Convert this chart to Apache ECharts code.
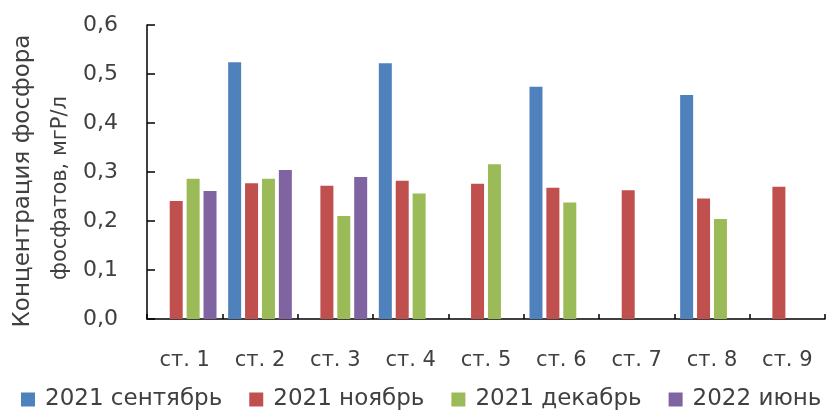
<!DOCTYPE html>
<html>
<head>
<meta charset="utf-8">
<script src="https://cdn.jsdelivr.net/npm/echarts@6/dist/echarts.min.js"></script>
<style>
  html, body { margin: 0; padding: 0; background: #fff; }
  #chart { width: 836px; height: 410px; }
</style>
</head>
<body>
<div id="chart"></div>
<script>
// Phosphate phosphorus concentration by station, mgP/l
const stations = ['ст. 1', 'ст. 2', 'ст. 3', 'ст. 4', 'ст. 5', 'ст. 6', 'ст. 7', 'ст. 8', 'ст. 9'];
const seriesNames = ['2021 сентябрь', '2021 ноябрь', '2021 декабрь', '2022 июнь'];
const sep2021 = [null, 0.524, null, 0.522, null, 0.474, null, 0.457, null];
const nov2021 = [0.241, 0.277, 0.272, 0.282, 0.276, 0.268, 0.263, 0.246, 0.270];
const dec2021 = [0.286, 0.286, 0.210, 0.256, 0.316, 0.238, null, 0.204, null];
const jun2022 = [0.261, 0.304, 0.290, null, null, null, null, null, null];
const yTicks = ['0,0', '0,1', '0,2', '0,3', '0,4', '0,5', '0,6'];
const yTitleLines = ['Концентрация фосфора', 'фосфатов, мгР/л'];

const palette = ['#4F81BD', '#C0504D', '#9BBB59', '#8064A2'];
const FONT = 'DejaVu Sans';
const TEXT = '#404040';

const chart = echarts.init(document.getElementById('chart'));
const values = [sep2021, nov2021, dec2021, jun2022];

chart.setOption({
  animation: false,
  color: palette,
  textStyle: { fontFamily: FONT, color: TEXT },
  grid: { left: 147, right: 11, top: 25, bottom: 91 },
  legend: {
    data: seriesNames,
    left: 21,
    top: 388,
    padding: 0,
    icon: 'rect',
    itemWidth: 14,
    itemHeight: 14,
    itemGap: 27,
    textStyle: { fontFamily: FONT, fontSize: 23, color: TEXT, padding: [0, 0, 0, 5] }
  },
  xAxis: {
    type: 'category',
    data: stations,
    axisLine: { lineStyle: { color: '#000', width: 1.5 } },
    axisTick: { show: true, inside: true, length: 5, lineStyle: { color: '#000', width: 1.5 } },
    axisLabel: { fontFamily: FONT, fontSize: 21, color: TEXT, margin: 31 },
    splitLine: { show: false }
  },
  yAxis: {
    type: 'value',
    min: 0,
    max: 0.6,
    interval: 0.1,
    axisLine: { show: true, lineStyle: { color: '#000', width: 1.5 } },
    axisTick: { show: true, inside: true, length: 8, lineStyle: { color: '#000', width: 1.5 } },
    axisLabel: {
      fontFamily: FONT, fontSize: 22, color: TEXT, margin: 29,
      formatter: (v) => yTicks[Math.round(v * 10)]
    },
    splitLine: { show: false }
  },
  graphic: [
    {
      type: 'text', x: 23, y: 181, rotation: Math.PI / 2,
      style: { text: yTitleLines[0], font: '23px "' + FONT + '"', fill: TEXT, align: 'center', verticalAlign: 'middle' }
    },
    {
      type: 'text', x: 61, y: 188, rotation: Math.PI / 2,
      style: { text: yTitleLines[1], font: '21px "' + FONT + '"', fill: TEXT, align: 'center', verticalAlign: 'middle' }
    }
  ],
  series: seriesNames.map((name, i) => ({
    name: name,
    type: 'bar',
    data: values[i],
    barWidth: 13,
    barGap: '30%'
  }))
});
</script>
</body>
</html>
